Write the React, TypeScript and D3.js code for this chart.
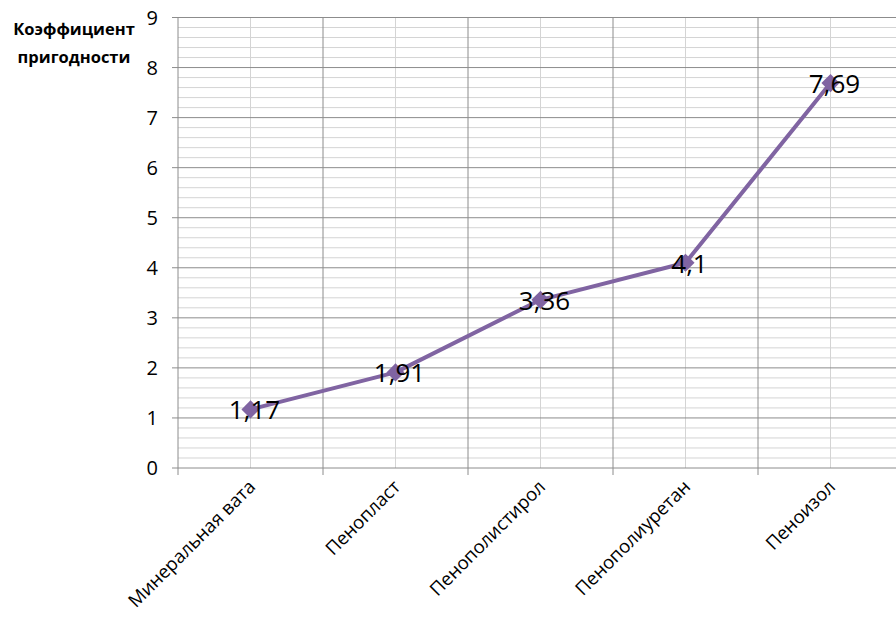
import React from "react";
import * as d3 from "d3";

const categories = ["Минеральная вата", "Пенопласт", "Пенополистирол", "Пенополиуретан", "Пеноизол"];
const values = [1.17, 1.91, 3.36, 4.1, 7.69];
const valueLabels = ["1,17", "1,91", "3,36", "4,1", "7,69"];
const yTicks = [0, 1, 2, 3, 4, 5, 6, 7, 8, 9];
const titleLines = ["Коэффициент", "пригодности"];

const W = 896;
const H = 620;
const left = 178;
const right = 903;
const top = 17.5;
const bottom = 468;
const FONT = "'Open Sans', 'Liberation Sans', sans-serif";

export default function App() {
  const x = d3.scaleBand<string>().domain(categories).range([left, right]).paddingInner(0).paddingOuter(0);
  const y = d3.scaleLinear().domain([0, 9]).range([bottom, top]);
  const cx = (c: string) => (x(c) as number) + x.bandwidth() / 2;

  const minor = d3.range(0, 45).map((i) => i * 0.2).filter((v) => Math.abs(v - Math.round(v)) > 1e-6);

  const line = d3
    .line<number>()
    .x((_, i) => cx(categories[i]))
    .y((d) => y(d));

  const diamond = d3.symbol().type(d3.symbolDiamond2).size(210)();

  return (
    <svg width={W} height={H} style={{ position: "absolute", left: 0, top: 0, background: "#fff" }} fontFamily={FONT}>
      {/* minor horizontal grid */}
      {minor.map((v) => (
        <line key={"mh" + v} x1={left} x2={right} y1={y(v)} y2={y(v)} stroke="#d4d4d4" strokeWidth={1} />
      ))}
      {/* minor vertical grid at category centres */}
      {categories.map((c) => (
        <line key={"mv" + c} x1={cx(c)} x2={cx(c)} y1={top} y2={bottom} stroke="#d4d4d4" strokeWidth={1} />
      ))}
      {/* major horizontal grid */}
      {yTicks.map((t) => (
        <line key={"h" + t} x1={left - 6} x2={right} y1={y(t)} y2={y(t)} stroke="#8c8c8c" strokeWidth={1} />
      ))}
      {/* major vertical grid at category boundaries */}
      {categories.map((c) => (
        <line key={"v" + c} x1={x(c) as number} x2={x(c) as number} y1={top} y2={bottom + 7} stroke="#8c8c8c" strokeWidth={1} />
      ))}
      {/* y axis labels */}
      {yTicks.map((t) => (
        <text key={"yt" + t} x={left - 20} y={y(t)} dy="0.36em" textAnchor="end" fontSize={20} fill="#000">
          {t}
        </text>
      ))}
      {/* axis title */}
      {titleLines.map((s, i) => (
        <text key={s} x={74} y={35 + i * 28} textAnchor="middle" fontSize={16.5} fontWeight="bold" fill="#000">
          {s}
        </text>
      ))}
      {/* category labels */}
      {categories.map((c) => (
        <text
          key={"xl" + c}
          transform={`translate(${cx(c) + 6},${bottom + 20}) rotate(-45)`}
          textAnchor="end"
          fontSize={18.5}
          fill="#000"
        >
          {c}
        </text>
      ))}
      {/* series line */}
      <path d={line(values) as string} fill="none" stroke="#8064a2" strokeWidth={4} strokeLinejoin="round" />
      {values.map((v, i) => (
        <path key={"m" + i} d={diamond as string} transform={`translate(${cx(categories[i])},${y(v)})`} fill="#8064a2" />
      ))}
      {/* data labels */}
      {values.map((v, i) => (
        <text
          key={"dl" + i}
          x={cx(categories[i]) + 4}
          y={y(v)}
          dy="0.38em"
          textAnchor="middle"
          fontSize={26}
          fill="#000"
        >
          {valueLabels[i]}
        </text>
      ))}
    </svg>
  );
}
